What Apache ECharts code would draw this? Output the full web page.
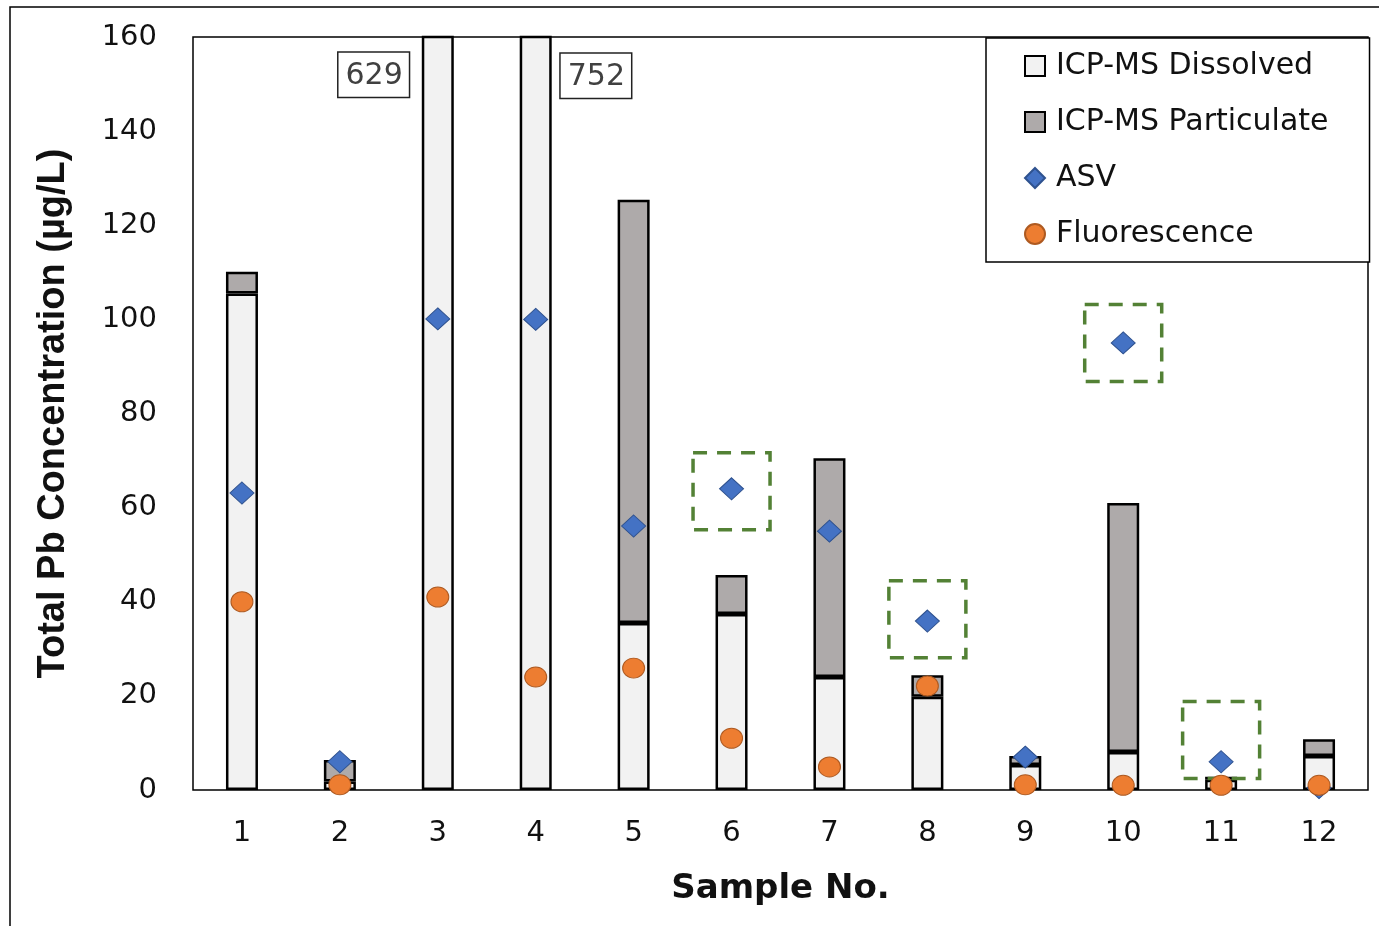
<!DOCTYPE html>
<html>
<head>
<meta charset="utf-8">
<script src="https://cdn.jsdelivr.net/npm/echarts@6/dist/echarts.min.js"></script>
<style>
  html, body { margin: 0; padding: 0; background: #fff; }
  #chart { width: 1379px; height: 926px; }
</style>
</head>
<body>
<div id="chart"></div>
<script>
// sample numbers
const samples = ['1', '2', '3', '4', '5', '6', '7', '8', '9', '10', '11', '12']
// ICP-MS (ug/L)
const dissolved = [105.5, 1.8, 629, 752, 35.5, 37.4, 24.0, 19.8, 5.3, 8.1, 2.2, 7.2]
const particulate = [4.6, 4.6, 0, 0, 89.9, 8.3, 46.5, 4.6, 1.9, 52.9, 0.6, 3.6]
// sensor readings
const asv = [63.1, 6.0, 100.1, 100.0, 56.1, 64.0, 55.0, 35.9, 7.0, 95.0, 6.0, 0.5]
const fluorescence = [40.0, 1.1, 41.0, 24.0, 25.9, 11.0, 4.9, 22.1, 1.1, 1.0, 1.0, 1.0]
// ASV points flagged with a dashed box (box centre, ug/L)
const flagged = ['6', '8', '10', '11']
const flagCentre = [63.5, 36.3, 95.0, 10.6]
const yTicks = { min: 0, max: 160, interval: 20 }

const font = 'DejaVu Sans'
const chart = echarts.init(document.getElementById('chart'))

// labels for bars that run off the top of the axis
const labelSide = { '3': 'left', '4': 'right' }
const dissolvedData = dissolved.map((v, i) => {
  if (v <= yTicks.max) return v
  const left = labelSide[samples[i]] === 'left'
  return {
    value: v,
    label: {
      show: true,
      position: left ? [-13, 17] : [41, 18],
      align: left ? 'right' : 'left',
      verticalAlign: 'top',
      formatter: '{c}',
      fontFamily: font,
      fontSize: 30,
      color: '#404040',
      backgroundColor: '#fff',
      borderColor: '#222',
      borderWidth: 1.5,
      padding: [8, 6, 6, 7]
    }
  }
})

const flaggedData = samples.map(s => {
  const k = flagged.indexOf(s)
  return k < 0 ? null : flagCentre[k]
})

const option = {
  animation: false,
  backgroundColor: '#fff',
  graphic: [{
    type: 'rect',
    shape: { x: 10, y: 7, width: 1400, height: 1000 },
    style: { fill: 'none', stroke: '#000', lineWidth: 1.5 },
    silent: true
  }],
  grid: {
    left: 193,
    right: 11,
    top: 37,
    bottom: 136,
    show: true,
    borderColor: '#000',
    borderWidth: 1.5,
    backgroundColor: 'transparent'
  },
  legend: {
    orient: 'vertical',
    left: 986,
    top: 38,
    padding: [13, 41, 13, 38],
    borderColor: '#000',
    borderWidth: 1.5,
    backgroundColor: '#fff',
    itemWidth: 20,
    itemHeight: 20,
    itemGap: 26,
    textStyle: { fontFamily: font, fontSize: 30, color: '#111', lineHeight: 30, padding: [0, 0, 0, 6] },
    data: [
      { name: 'ICP-MS Dissolved', icon: 'rect' },
      { name: 'ICP-MS Particulate', icon: 'rect' },
      { name: 'ASV', icon: 'diamond' },
      { name: 'Fluorescence', icon: 'circle' }
    ]
  },
  xAxis: {
    type: 'category',
    data: samples,
    name: 'Sample No.',
    nameLocation: 'middle',
    nameGap: 82,
    nameTextStyle: { fontFamily: font, fontSize: 34, fontWeight: 'bold', color: '#111' },
    axisLine: { show: false },
    axisTick: { show: false },
    axisLabel: { fontFamily: font, fontSize: 29, color: '#111', margin: 29 }
  },
  yAxis: {
    type: 'value',
    min: yTicks.min,
    max: yTicks.max,
    interval: yTicks.interval,
    name: 'Total Pb Concentration (µg/L)',
    nameLocation: 'middle',
    nameRotate: 90,
    nameGap: 120,
    nameTextStyle: { fontFamily: 'Liberation Sans Narrow, Liberation Sans', fontSize: 38, fontWeight: 'bold', color: '#111' },
    axisLine: { show: false },
    axisTick: { show: false },
    splitLine: { show: false },
    axisLabel: { fontFamily: font, fontSize: 29, color: '#111', margin: 36 }
  },
  series: [
    {
      name: 'ICP-MS Dissolved',
      type: 'bar',
      stack: 'icp',
      barWidth: 32,
      clip: true,
      data: dissolvedData,
      itemStyle: { color: '#f2f2f2', borderColor: '#000', borderWidth: 2.5 }
    },
    {
      name: 'ICP-MS Particulate',
      type: 'bar',
      stack: 'icp',
      barWidth: 32,
      clip: true,
      data: particulate,
      itemStyle: { color: '#aeaaaa', borderColor: '#000', borderWidth: 2.5 }
    },
    {
      name: 'ASV',
      type: 'scatter',
      symbol: 'diamond',
      symbolSize: [24, 22],
      data: asv,
      z: 4,
      itemStyle: { color: '#4472c4', borderColor: '#2f528f', borderWidth: 1, opacity: 1 }
    },
    {
      name: 'Fluorescence',
      type: 'scatter',
      symbol: 'circle',
      symbolSize: [22, 20],
      data: fluorescence,
      z: 5,
      itemStyle: { color: '#ed7d31', borderColor: '#ae5a21', borderWidth: 1, opacity: 1 }
    },
    {
      name: 'flag',
      type: 'scatter',
      symbol: 'rect',
      symbolSize: 77,
      data: flaggedData,
      silent: true,
      z: 3,
      itemStyle: {
        color: 'transparent',
        borderColor: '#538135',
        borderWidth: 3.5,
        borderType: [14, 10],
        opacity: 1
      }
    }
  ]
}
chart.setOption(option)
</script>
</body>
</html>
